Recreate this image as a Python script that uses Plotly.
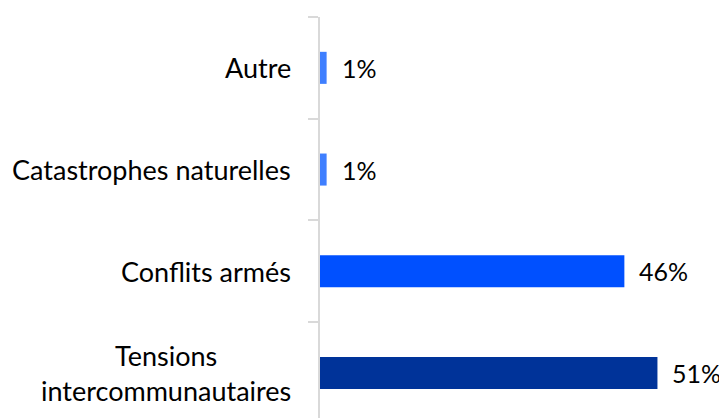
import plotly.graph_objects as go

categories = ["Tensions<br>intercommunautaires", "Conflits armés", "Catastrophes naturelles", "Autre"]
values = [51, 46, 1, 1]
labels = ["51%", "46%", "1%", "1%"]
colors = ["#003399", "#0050FF", "#3F7FFF", "#3F7FFF"]

n = len(categories)
positions = list(range(n))
boundaries = [p - 0.5 for p in positions] + [n - 0.5]

fig = go.Figure()
fig.add_trace(go.Bar(
    x=values, y=positions, orientation="h",
    marker=dict(color=colors, line=dict(width=0)),
    width=0.315, hoverinfo="skip",
))

font_family = "Lato, 'Open Sans', sans-serif"
for i, (c, v, t) in enumerate(zip(categories, values, labels)):
    fig.add_annotation(x=0, xref="paper", y=i, yref="y", text=c, showarrow=False,
                       xanchor="right", yanchor="middle", align="center", xshift=-27,
                       font=dict(family=font_family, size=27, color="#000000"))
    fig.add_annotation(x=v, xref="x", y=i, yref="y", text=t, showarrow=False,
                       xanchor="left", yanchor="middle", xshift=13,
                       font=dict(family=font_family, size=25, color="#000000"))

# page body has an 8px margin; compensate so the plot lands where the reference has it
fig.update_layout(
    width=719, height=410,
    margin=dict(l=312, r=10, t=9, b=0, autoexpand=False),
    plot_bgcolor="white", paper_bgcolor="white",
    showlegend=False,
    xaxis=dict(range=[0, 60], visible=False, fixedrange=True),
    yaxis=dict(range=[-0.443, 3.5], tickmode="array", tickvals=boundaries,
               showticklabels=False, automargin=False,
               ticks="outside", ticklen=10, tickwidth=2,
               tickcolor="#D9D9D9", showline=True, linecolor="#D9D9D9", linewidth=2,
               showgrid=False, zeroline=False, fixedrange=True),
)

fig.write_html("out.html")
